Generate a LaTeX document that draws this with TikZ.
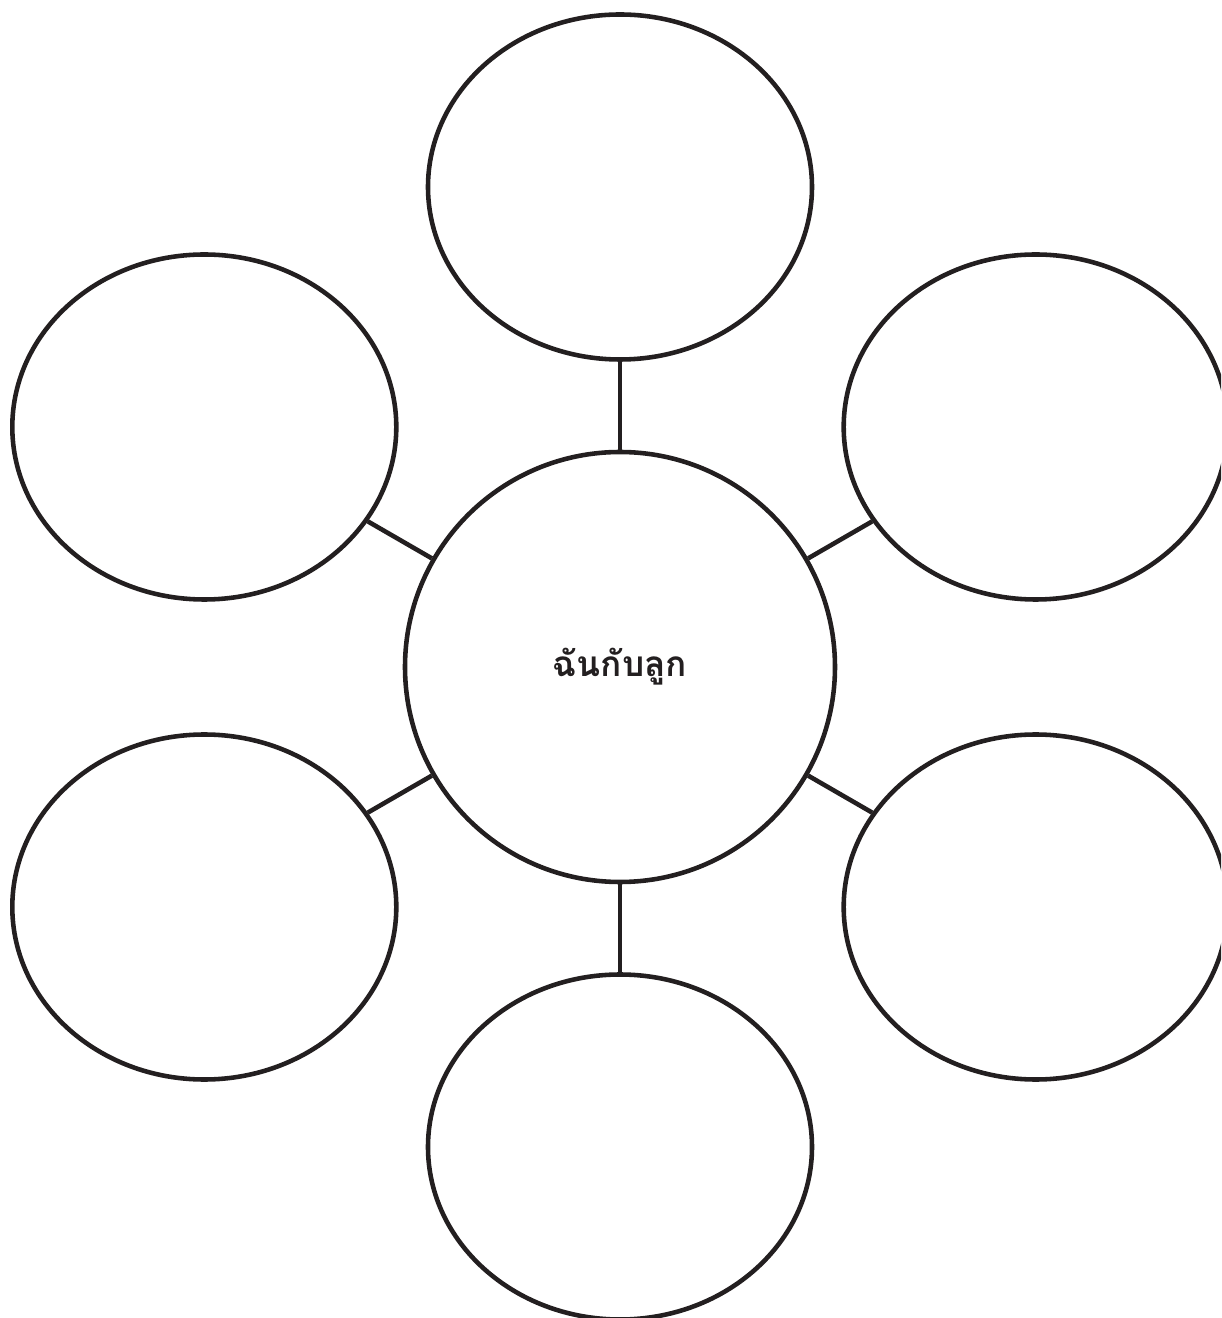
\documentclass[tikz,border=0pt]{standalone}
\usepackage{fontspec}
\newfontfamily\thaifont[Script=Thai]{Loma}
\usetikzlibrary{shapes.geometric}
\definecolor{ink}{RGB}{35,31,32}

\begin{document}
\begin{tikzpicture}[
  hub/.style={circle, draw=ink, line width=2.6pt, minimum size=8.6cm, inner sep=0pt, text=ink, font=\thaifont\bfseries\fontsize{20}{24}\selectfont},
  bubble/.style={ellipse, draw=ink, line width=2.6pt, minimum width=7.68cm, minimum height=6.9cm, inner sep=0pt},
  link/.style={draw=ink, line width=2.6pt}
]
\clip (-12.4,-13.02) rectangle (12.02,13.34);

\node (hub) [hub] at (0,0) {ฉันกับลูก};

\node (top) [bubble] at (90:9.6) {};
\node (upleft) [bubble] at (150:9.6) {};
\node (lowleft) [bubble] at (210:9.6) {};
\node (bottom) [bubble] at (270:9.6) {};
\node (lowright) [bubble] at (330:9.6) {};
\node (upright) [bubble] at (30:9.6) {};

\draw [link] (hub) -- (top);
\draw [link] (hub) -- (upleft);
\draw [link] (hub) -- (lowleft);
\draw [link] (hub) -- (bottom);
\draw [link] (hub) -- (lowright);
\draw [link] (hub) -- (upright);

\end{tikzpicture}
\end{document}
